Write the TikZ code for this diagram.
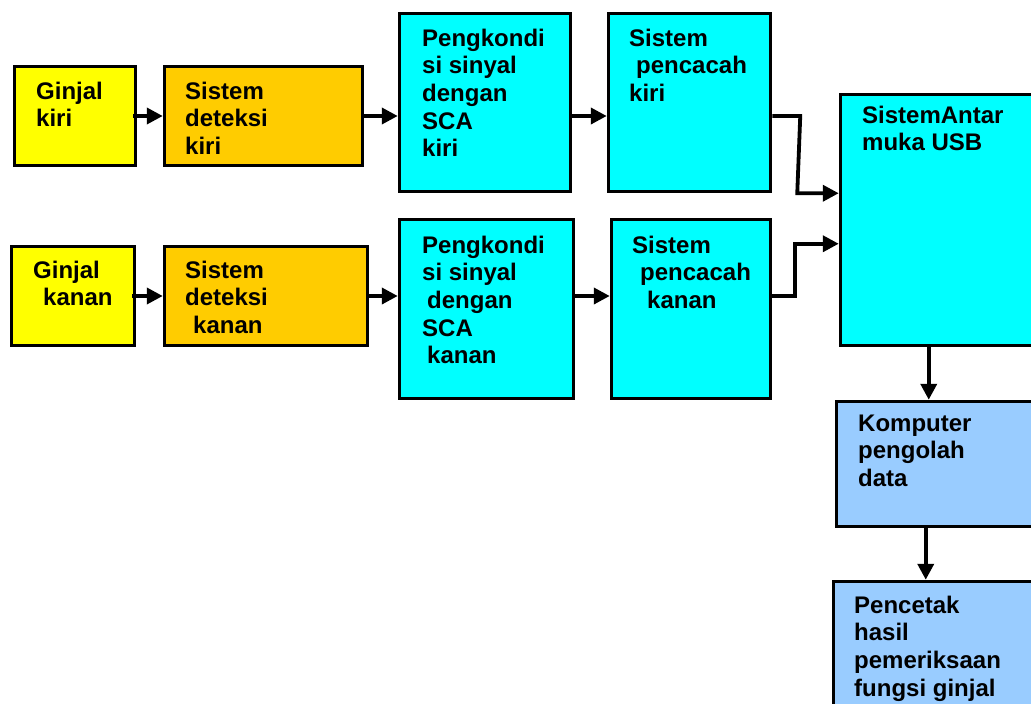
\documentclass[tikz,border=0pt]{standalone}
\usepackage{fontspec}
\setmainfont{Liberation Sans}
\usetikzlibrary{arrows.meta}

\definecolor{kuning}{HTML}{FFFF00}
\definecolor{oranye}{HTML}{FFCC00}
\definecolor{sian}{HTML}{00FFFF}
\definecolor{biru}{HTML}{99CCFF}

\tikzstyle{box} = [draw, line width=3.5pt, inner sep=0pt]
\tikzstyle{txt} = [anchor=north west, inner sep=0pt, align=left, font=\fontsize{24}{27.7}\selectfont\bfseries]
\tikzstyle{arw} = [line width=3.8pt, -{Triangle[length=16pt,width=16pt]}]

\begin{document}
\begin{tikzpicture}[x=1pt, y=1pt]

\useasboundingbox (0,0) rectangle (1031,-704);
\clip (0,0) rectangle (1031,-704);

% baris kiri
\node[box, fill=kuning, minimum width=121, minimum height=99] (gki) at (75,-116) {};
\node[box, fill=oranye, minimum width=198, minimum height=99] (dki) at (263.5,-116) {};
\node[box, fill=sian, minimum width=171, minimum height=178] (pki) at (485,-102.5) {};
\node[box, fill=sian, minimum width=162, minimum height=178] (pcki) at (689.5,-102.5) {};

% baris kanan
\node[box, fill=kuning, minimum width=123, minimum height=99] (gkn) at (73,-296) {};
\node[box, fill=oranye, minimum width=203, minimum height=99] (dkn) at (266,-296) {};
\node[box, fill=sian, minimum width=174, minimum height=179] (pkn) at (486.5,-309) {};
\node[box, fill=sian, minimum width=159, minimum height=179] (pckn) at (691,-309) {};

% kolom kanan
\node[box, fill=sian, minimum width=228, minimum height=251] (usb) at (954.5,-220) {};
\node[box, fill=biru, minimum width=232, minimum height=125] (kom) at (952.5,-464) {};
\node[box, fill=biru, minimum width=235, minimum height=157] (cet) at (951,-660) {};

\node[txt] (gkit) at (36,-81.5) {Ginjal\\kiri};
\node[txt] (dkit) at (185,-81.5) {Sistem\\deteksi\\kiri};
\node[txt] (pkit) at (422,-28.5) {Pengkondi\\si sinyal\\dengan\\SCA\\kiri};
\node[txt] (pckit) at (629,-28.5) {Sistem\\\hspace*{7pt}pencacah\\kiri};
\node[txt] (gknt) at (33,-260.5) {Ginjal\\\hspace*{10pt}kanan};
\node[txt] (dknt) at (185,-260.5) {Sistem\\deteksi\\\hspace*{8pt}kanan};
\node[txt] (pknt) at (422,-235.5) {Pengkondi\\si sinyal\\\hspace*{5pt}dengan\\SCA\\\hspace*{5pt}kanan};
\node[txt] (pcknt) at (632,-235.5) {Sistem\\\hspace*{8pt}pencacah\\\hspace*{15pt}kanan};
\node[txt] (usbt) at (862,-105.5) {SistemAntar\\muka USB};
\node[txt] (komt) at (858,-414.5) {Komputer\\pengolah\\data};
\node[txt] (cett) at (854,-595.5) {Pencetak\\hasil\\pemeriksaan\\fungsi ginjal};

\draw[arw] ([xshift=-4]gki.east) -- (dki.west);
\draw[arw] (dki.east) -- (pki.west |- dki);
\draw[arw] (pki.east |- dki) -- (pcki.west |- dki);
\draw[arw] ([xshift=-4]gkn.east) -- (dkn.west);
\draw[arw] (dkn.east) -- (pkn.west |- dkn);
\draw[arw] (pkn.east |- dkn) -- (pckn.west |- dkn);

\coordinate (tk) at ([xshift=23,yshift=-26]pckn.north east);
\draw[arw] (pcki.east |- dki) -- ([xshift=28]pcki.east |- dki) -- ([xshift=25]pcki.south east) -- (usb.west |- pcki.south);
\draw[arw] (pckn.east |- dkn) -- (tk |- dkn) -- (tk) -- (tk -| usb.west);

\draw[arw] ([xshift=90]usb.south west) -- ([xshift=90]usb.south west |- kom.north);
\draw[arw] ([xshift=91]kom.south west) -- ([xshift=91]kom.south west |- cet.north);

\end{tikzpicture}
\end{document}
